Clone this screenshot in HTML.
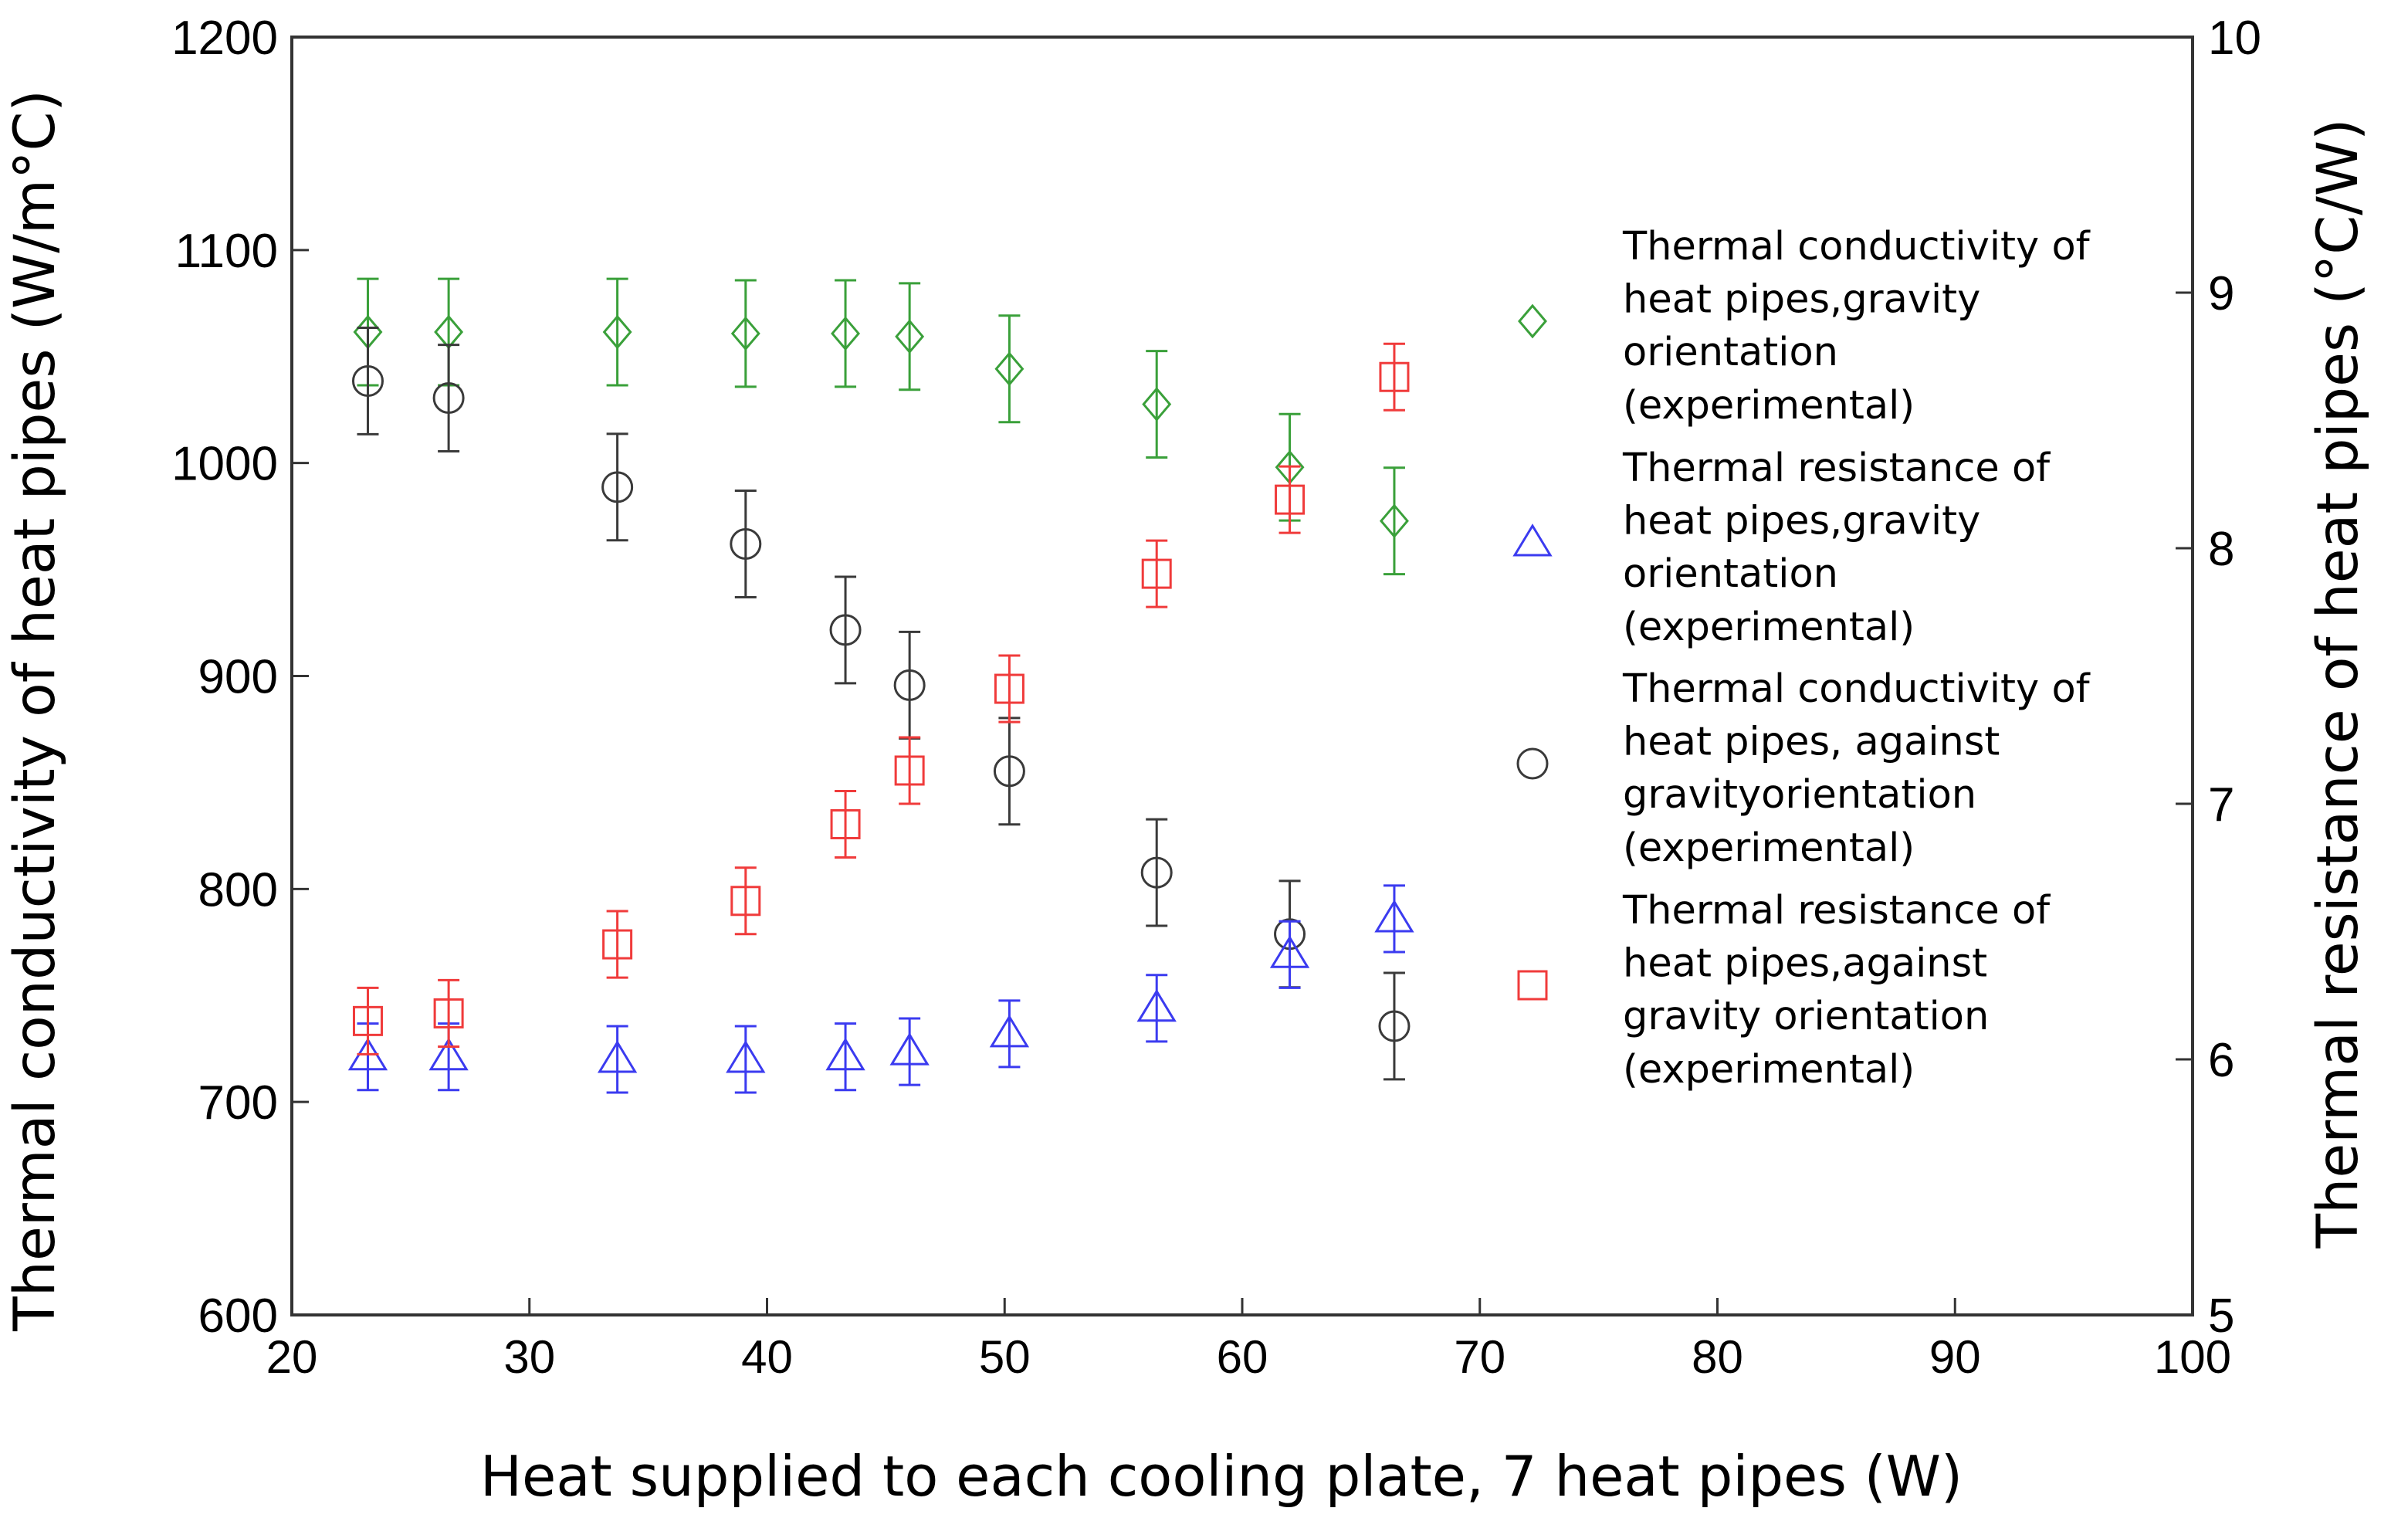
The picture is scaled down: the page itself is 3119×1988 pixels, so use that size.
<!DOCTYPE html>
<html><head><meta charset="utf-8"><style>
html,body{margin:0;padding:0;background:#fff;}
svg{display:block;font-family:"Liberation Sans",Arial,sans-serif;}
</style></head><body>
<svg id="chart" width="3119" height="1988" viewBox="0 0 3119 1988" xmlns="http://www.w3.org/2000/svg">
<rect x="378" y="48" width="2462" height="1655" fill="none" stroke="#333" stroke-width="4"/>
<g id="axes"></g>
<g id="marks"></g>
<text x="70" y="920" font-size="73" text-anchor="middle" transform="rotate(-90 70 920)" font-family="DejaVu Sans, sans-serif">Thermal conductivity of heat pipes (W/m°C)</text>
<text x="3053" y="885" font-size="73" text-anchor="middle" transform="rotate(-90 3053 885)" font-family="DejaVu Sans, sans-serif">Thermal resistance of heat pipes (°C/W)</text>
<text x="1582" y="1937" font-size="72" text-anchor="middle" font-family="DejaVu Sans, sans-serif">Heat supplied to each cooling plate, 7 heat pipes (W)</text>
<g id="legend" font-size="51" font-family="DejaVu Sans, sans-serif"></g>
</svg>
<script>
const xVals=[23.2,26.6,33.7,39.1,43.3,46.0,50.2,56.4,62.0,66.4];
const condGravity=[1061.5,1061.5,1061.5,1060.8,1060.8,1059.4,1044.2,1027.6,998,972.8];
const condAgainst=[1038.5,1030.5,988.7,962,921.6,895.7,855.3,807.7,778.8,735.6];
const resGravity=[6.01,6.01,6.0,6.0,6.01,6.03,6.10,6.20,6.41,6.55];
const resAgainst=[6.15,6.18,6.45,6.62,6.92,7.13,7.45,7.90,8.19,8.67];
const condErr=25;
const resErr=0.13;
const xTicks=[20,30,40,50,60,70,80,90,100];
const yLeftTicks=[600,700,800,900,1000,1100,1200];
const yRightTicks=[5,6,7,8,9,10];

const L=378,R=2840,T=48,B=1703;
const sx=v=>L+(v-20)/80*(R-L);
const syL=v=>B-(v-600)/600*(B-T);
const syR=v=>B-(v-5)/5*(B-T);
const NS="http://www.w3.org/2000/svg";
function mk(tag,attrs,parent){const e=document.createElementNS(NS,tag);for(const k in attrs)e.setAttribute(k,attrs[k]);parent.appendChild(e);return e;}
const axes=document.getElementById('axes');
xTicks.forEach(t=>{
  const x=sx(t);
  const tk=mk('line',{x1:x,x2:x,y1:B,y2:B-22,stroke:'#333','stroke-width':3},axes);
  
  
  const tx=mk('text',{x:x,y:1778,'font-size':60,'text-anchor':'middle'},axes);tx.textContent=t;
  
  
});
yLeftTicks.forEach(t=>{
  const y=syL(t);
  const tk=mk('line',{x1:L,x2:L+22,y1:y,y2:y,stroke:'#333','stroke-width':3},axes);
  
  
  const tx=mk('text',{x:360,y:y+22,'font-size':62,'text-anchor':'end'},axes);tx.textContent=t;
  
  
});
yRightTicks.forEach(t=>{
  const y=syR(t);
  const tk=mk('line',{x1:R,x2:R-22,y1:y,y2:y,stroke:'#333','stroke-width':3},axes);
  
  
  const tx=mk('text',{x:2860,y:y+22,'font-size':62,'text-anchor':'start'},axes);tx.textContent=t;
  
  
});
function marker(shape,x,y,c,parent){
  let e;
  if(shape==='diamond')e=mk('polygon',{points:`${x},${y-20} ${x+17},${y} ${x},${y+20} ${x-17},${y}`},parent);
  else if(shape==='circle')e=mk('circle',{cx:x,cy:y,r:19},parent);
  else if(shape==='triangle')e=mk('polygon',{points:`${x},${y-22} ${x+23},${y+16} ${x-23},${y+16}`},parent);
  else e=mk('rect',{x:x-18,y:y-18,width:36,height:36},parent);
  e.setAttribute('fill','none');e.setAttribute('stroke',c);e.setAttribute('stroke-width',3);
  return e;
}
const marks=document.getElementById('marks');
const series=[
 {vals:condGravity,err:condErr,sy:syL,c:'#3aa03a',shape:'diamond',name:'cond-gravity'},
 {vals:condAgainst,err:condErr,sy:syL,c:'#3a3a3a',shape:'circle',name:'cond-against'},
 {vals:resGravity,err:resErr,sy:syR,c:'#3b3bf0',shape:'triangle',name:'res-gravity'},
 {vals:resAgainst,err:resErr,sy:syR,c:'#f03b3b',shape:'square',name:'res-against'}
];
series.forEach(s=>{
  const g=mk('g',{},marks);
  
  
  s.vals.forEach((v,i)=>{
    const x=sx(xVals[i]),y=s.sy(v),y1=s.sy(v+s.err),y2=s.sy(v-s.err);
    const eb=mk('path',{d:`M${x},${y1}V${y2}M${x-14},${y1}H${x+14}M${x-14},${y2}H${x+14}`,stroke:s.c,'stroke-width':3,fill:'none'},g);
    
    
    const m=marker(s.shape,x,y,s.c,g);
    
    
  });
});
const legend=document.getElementById('legend');
const legItems=[
 {shape:'diamond',c:'#3aa03a',my:416,ty:318,lines:['Thermal conductivity of','heat pipes,gravity','orientation','(experimental)']},
 {shape:'triangle',c:'#3b3bf0',my:703,ty:605,lines:['Thermal resistance of','heat pipes,gravity','orientation','(experimental)']},
 {shape:'circle',c:'#3a3a3a',my:989,ty:891,lines:['Thermal conductivity of','heat pipes, against','gravityorientation','(experimental)']},
 {shape:'square',c:'#f03b3b',my:1276,ty:1178,lines:['Thermal resistance of','heat pipes,against','gravity orientation','(experimental)']}
];
legItems.forEach(it=>{
  const m=marker(it.shape,1985,it.my,it.c,legend);
  
  
  it.lines.forEach((ln,j)=>{
    const t=mk('text',{x:2102,y:it.ty+18+j*68.6},legend);t.textContent=ln;
    
    
  });
});
</script>
</body></html>
